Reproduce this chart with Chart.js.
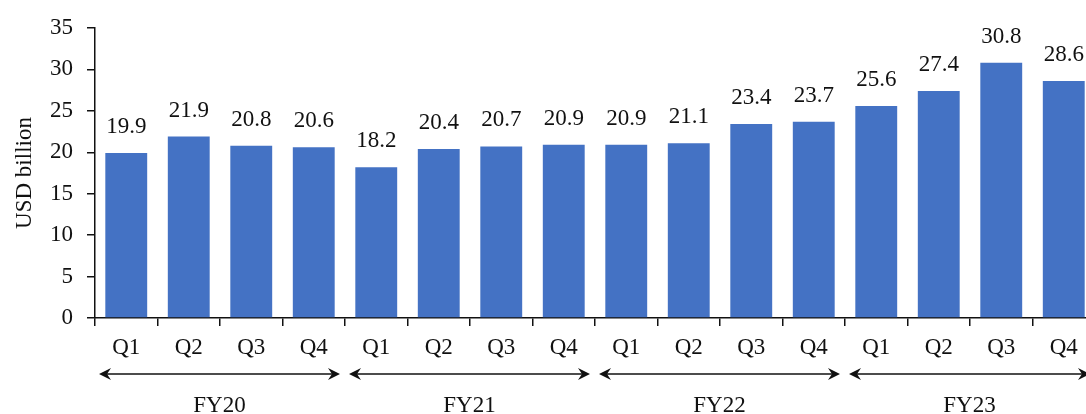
<!DOCTYPE html>
<html>
<head>
<meta charset="utf-8">
<script src="https://cdn.jsdelivr.net/npm/chart.js@4/dist/chart.umd.min.js"></script>
<style>
  html, body { margin: 0; padding: 0; background: #fff; overflow: hidden; }
  #wrap { width: 1100px; height: 414px; }
</style>
</head>
<body>
<div id="wrap"><canvas id="revenueChart" width="1100" height="414"></canvas></div>
<script>
const quarters = ['Q1', 'Q2', 'Q3', 'Q4', 'Q1', 'Q2', 'Q3', 'Q4', 'Q1', 'Q2', 'Q3', 'Q4', 'Q1', 'Q2', 'Q3', 'Q4'];
const fiscalYears = ['FY20', 'FY21', 'FY22', 'FY23'];
const revenue = [19.9, 21.9, 20.8, 20.6, 18.2, 20.4, 20.7, 20.9, 20.9, 21.1, 23.4, 23.7, 25.6, 27.4, 30.8, 28.6];
const yTicks = [0, 5, 10, 15, 20, 25, 30, 35];

const serif = '"Liberation Serif", "Times New Roman", serif';
const ink = '#111';
const fontSize = 23;

// value labels above bars + FY arrows under the axis
const extras = {
  id: 'extras',
  afterDatasetsDraw(chart) {
    const ctx = chart.ctx;
    const meta = chart.getDatasetMeta(0);
    ctx.save();
    ctx.font = fontSize + 'px ' + serif;
    ctx.fillStyle = ink;
    ctx.textAlign = 'center';
    ctx.textBaseline = 'alphabetic';
    meta.data.forEach((bar, i) => {
      ctx.fillText(revenue[i].toFixed(1), bar.x, bar.y - 20);
    });

    const x = chart.scales.x;
    const step = x.getPixelForValue(1) - x.getPixelForValue(0);
    const arrowY = 374;
    ctx.strokeStyle = ink;
    ctx.lineWidth = 1.5;
    fiscalYears.forEach((fy, g) => {
      const left = x.getPixelForValue(g * 4) - step / 2 + 4;
      const right = x.getPixelForValue(g * 4 + 3) + step / 2 - 5;
      ctx.beginPath();
      ctx.moveTo(left + 4, arrowY);
      ctx.lineTo(right - 4, arrowY);
      ctx.stroke();
      [[left, 1], [right, -1]].forEach(([tip, dir]) => {
        ctx.beginPath();
        ctx.moveTo(tip, arrowY);
        ctx.lineTo(tip + dir * 12, arrowY - 6);
        ctx.lineTo(tip + dir * 8, arrowY);
        ctx.lineTo(tip + dir * 12, arrowY + 6);
        ctx.closePath();
        ctx.fill();
      });
      ctx.textBaseline = 'middle';
      ctx.fillText(fy, (left + right) / 2, 406);
    });
    ctx.restore();
  }
};

document.addEventListener('DOMContentLoaded', () => {
  const ctx = document.getElementById('revenueChart').getContext('2d');
  new Chart(ctx, {
    type: 'bar',
    data: {
      labels: quarters,
      datasets: [{
        data: revenue,
        backgroundColor: '#4472C4',
        borderWidth: 0,
        barPercentage: 0.67,
        categoryPercentage: 1.0
      }]
    },
    options: {
      responsive: false,
      animation: false,
      layout: { padding: { top: 28, right: 5, left: 0, bottom: 0 } },
      plugins: { legend: { display: false }, tooltip: { enabled: false } },
      scales: {
        x: {
          grid: { display: true, drawOnChartArea: false, tickLength: 8, color: ink, lineWidth: 1.5, offset: true },
          border: { display: true, color: ink, width: 1.5 },
          ticks: { color: ink, font: { family: serif, size: fontSize }, padding: 8, maxRotation: 0 },
          afterFit(scale) { scale.height = 96; }
        },
        y: {
          min: 0,
          max: 35,
          afterBuildTicks(scale) { scale.ticks = yTicks.map(v => ({ value: v })); },
          grid: { display: true, drawOnChartArea: false, tickLength: 8, color: ink, lineWidth: 1.5 },
          border: { display: true, color: ink, width: 1.5 },
          ticks: { color: ink, font: { family: serif, size: fontSize }, padding: 14 },
          title: { display: true, text: 'USD billion', color: ink, font: { family: serif, size: fontSize }, padding: { top: 11 } },
          afterFit(scale) { scale.width = 95; }
        }
      }
    },
    plugins: [extras]
  });
});
</script>
</body>
</html>
